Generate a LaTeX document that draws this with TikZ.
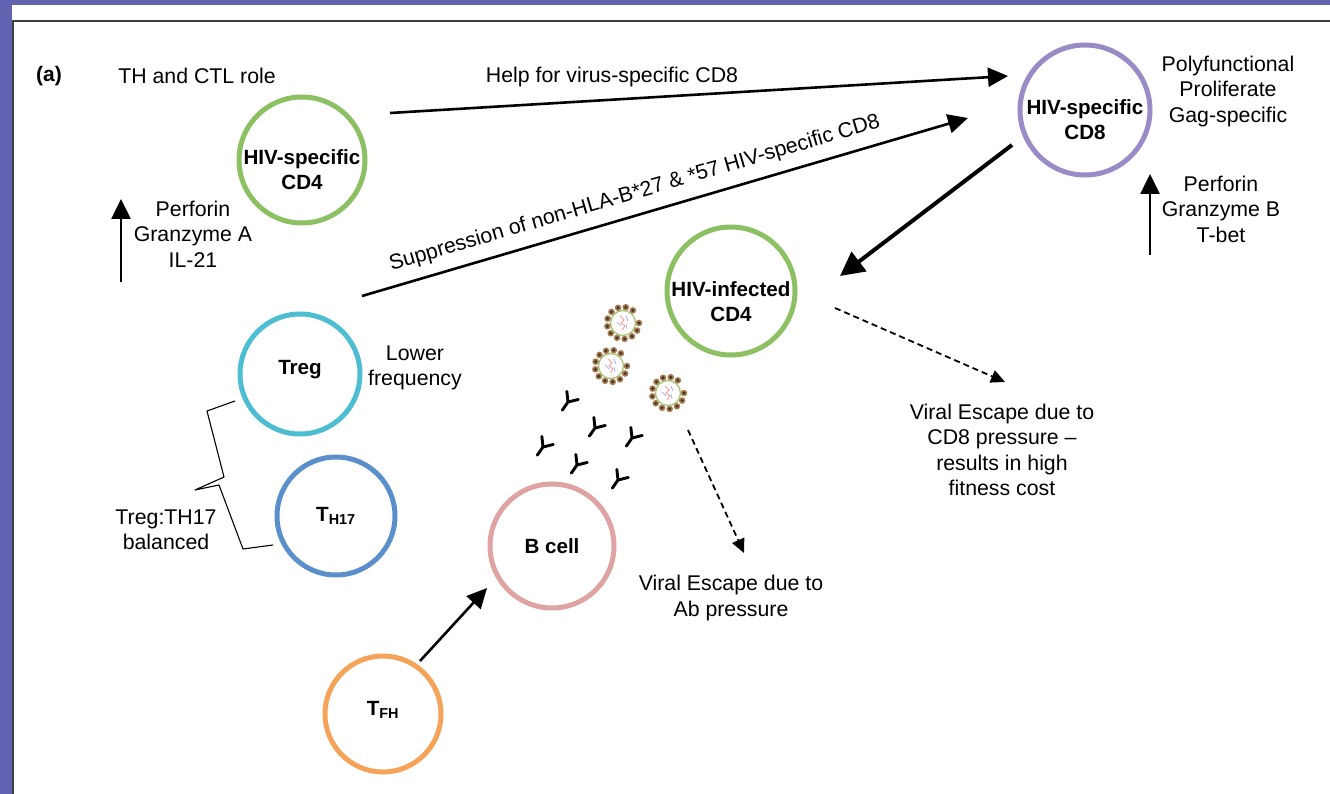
\documentclass[tikz,border=0pt]{standalone}
\usepackage{fontspec}
\setmainfont{Liberation Sans}
\usetikzlibrary{arrows.meta}

\definecolor{slide}{HTML}{6163B0}
\definecolor{cgreen}{HTML}{8CC063}
\definecolor{cpurple}{HTML}{9A8AC6}
\definecolor{ccyan}{HTML}{4DBDD2}
\definecolor{cblue}{HTML}{5A8FCB}
\definecolor{cpink}{HTML}{DFA3A3}
\definecolor{corange}{HTML}{F6A35A}
\definecolor{spike}{HTML}{A8784A}
\definecolor{capsid}{HTML}{A8C27A}

\tikzset{
  virion/.pic={
    \foreach \a in {0,28,...,335}{
      \fill[spike] (\a:16) circle (3.3);
      \fill[black!80] (\a:16) circle (1.6);
    }
    \draw[line width=1.3pt, capsid] (0,0) circle (12.5);
    \draw[red!45, line width=0.7pt] (-3,-7) -- (1,-3) -- (-2,0) -- (2,3) -- (-1,7);
    \draw[blue!35, line width=0.7pt] (-6,-1) -- (-2,3) (3,-7) -- (5,-2) (3,1) -- (4,6);
  },
  antibody/.pic={
    \draw[line width=2.9pt, line cap=round, line join=round]
      (0,10) -- (0,0) (-7,-8) -- (0,0) -- (7,-8);
  }
}

\begin{document}
\begin{tikzpicture}[x=1pt, y=-1pt,
  every node/.style={font=\fontsize{21.3}{25.5}\selectfont, inner sep=0pt, text=black},
  cell/.style={circle, draw, line width=5pt, minimum size=#1, inner sep=0pt},
  note/.style={align=center},
  tag/.style={font=\fontsize{20.6}{25}\selectfont\bfseries, align=center},
  arr/.style={line width=2.6pt, -{Triangle[length=20pt,width=19pt]}},
  bigarr/.style={line width=4pt, -{Triangle[length=24pt,width=24pt]}},
  dasharr/.style={line width=1.8pt, dash pattern=on 6pt off 4pt,
                  -{Triangle[length=14pt,width=13pt]}}
]
\useasboundingbox (0,0) rectangle (1330,794);

% slide background and page frame
\fill[slide] (0,0) rectangle (1330,794);
\fill[white] (12,5) rectangle (1330,794);
\draw[black!75, line width=1.6pt] (12.8,794) -- (12.8,21) -- (1330,21);

% cells
\node[cell=126, draw=cgreen]  (cd4)  at (302,160) {};
\node[cell=130, draw=cpurple] (cd8)  at (1085,110) {};
\node[cell=120, draw=ccyan]   (treg) at (300,374) {};
\node[cell=118, draw=cblue]   (th17) at (336,516) {};
\node[cell=124, draw=cpink]   (bcell) at (552,546) {};
\node[cell=116, draw=corange] (tfh)  at (383,714) {};
\node[cell=128, draw=cgreen]  (inf)  at (731,291) {};

% cell names
\node[tag, yshift=-10pt] at (cd4) {HIV-specific\\CD4};
\node[tag, yshift=-10pt] at (cd8) {HIV-specific\\CD8};
\node[tag, yshift=-11pt] at (inf) {HIV-infected\\CD4};
\node[tag, yshift=4pt] at (treg) {Treg};
\node[tag] at (th17) {T\textsubscript{H17}};
\node[tag] at (bcell) {B cell};
\node[tag, yshift=4pt] at (tfh) {T\textsubscript{FH}};

% free texts
\node[font=\fontsize{21}{25}\selectfont\bfseries] (lbla) at (49,76) {(a)};
\node[note] (role) at (197,76) {TH and CTL role};
\node[note] (help) at (612,77) {Help for virus-specific CD8};
\node[note] (poly) at (1228,91) {Polyfunctional\\Proliferate\\Gag-specific};
\node[note] (effR) at (1221,209) {Perforin\\Granzyme B\\T-bet};
\node[note] (effL) at (193,234) {Perforin\\Granzyme A\\IL-21};
\node[note] (low)  at (415,368) {Lower\\frequency};
\node[note] (bal)  at (166,530) {Treg:TH17\\balanced};
\node[note] (esc1) at (1002,450) {Viral Escape due to\\CD8 pressure --\\results in high\\fitness cost};
\node[note] (esc2) at (731,598) {Viral Escape due to\\Ab pressure};

% connector end points
\coordinate (h1) at (390,113);  \coordinate (h2) at (1008,76);
\coordinate (s1) at (362,296);  \coordinate (s2) at (968,118);
\coordinate (k1) at (1012,145); \coordinate (k2) at (840,276);
\coordinate (e1) at (835,308);  \coordinate (e2) at (1005,382);
\coordinate (b1) at (688,430);  \coordinate (b2) at (744,553);
\coordinate (f1) at (420,661);  \coordinate (f2) at (487,588);
\coordinate (upL1) at (121,282); \coordinate (upL2) at (121,199);
\coordinate (upR1) at (1150,255); \coordinate (upR2) at (1150,174);

% connectors
\draw[arr] (h1) -- (h2);
\draw[arr] (s1) -- node[pos=0.46, above=10pt, sloped]
  {Suppression of non-HLA-B*27 \& *57 HIV-specific CD8} (s2);
\draw[bigarr] (k1) -- (k2);
\draw[dasharr] (e1) -- (e2);
\draw[dasharr] (b1) -- (b2);
\draw[arr] (f1) -- (f2);
\draw[arr] (upL1) -- (upL2);
\draw[arr] (upR1) -- (upR2);

% brace grouping Treg and TH17
\draw[line width=1.1pt, line join=round]
  (235,401) -- (207,411) -- (224,477) -- (195,490) -- (219,485)
  -- (243,549) -- (273,545);

% free virions
\pic at (623,323) {virion};
\pic at (611,366) {virion};
\pic at (668,393) {virion};

% antibodies
\foreach \p in {(568,402),(595,428),(632,438),(543,447),(577,465),(618,480)}
  \pic[rotate=-35] at \p {antibody};

\end{tikzpicture}
\end{document}
